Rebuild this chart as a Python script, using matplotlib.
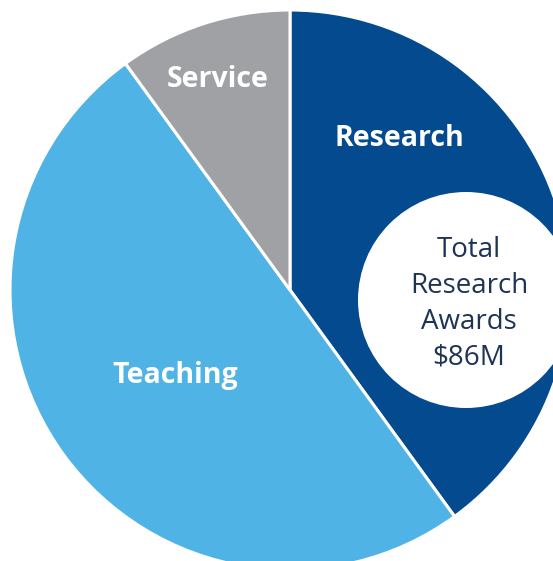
import matplotlib.pyplot as plt
from matplotlib.patches import Circle

# ==========================================
# データ
# ==========================================

labels = ["Research", "Teaching", "Service"]
shares = [40, 50, 10]
colors = ["#044A8F", "#50B3E5", "#A0A1A4"]

center_title = "Total\nResearch\nAwards\n$86M"

# 画像サイズ (px)
W = 553
H = 561

plt.rcParams["font.family"] = ["Open Sans", "DejaVu Sans"]

fig = plt.figure(figsize=(W / 100, H / 100), dpi=100)
ax = fig.add_axes([0, 0, 1, 1])

# 円グラフ (右下ははみ出す)
ax.pie(
    shares,
    colors=colors,
    startangle=90,
    counterclock=False,
    center=(290, H - 290),
    radius=280,
    wedgeprops=dict(edgecolor="white", linewidth=2.2),
)

ax.set_xlim(0, W)
ax.set_ylim(0, H)
ax.set_aspect("equal")
ax.axis("off")

# ラベル
label_pos = {
    "Research": (399, 138),
    "Teaching": (175, 375),
    "Service": (218, 79),
}
for name in labels:
    x, y = label_pos[name]
    ax.text(x, H - y, name, color="white", fontsize=20.5,
            fontweight="bold", ha="center", va="center")

# 中央の白い円
ax.add_patch(Circle((466, H - 300), 108, facecolor="white",
                    edgecolor="none", zorder=5))
ax.text(469, H - 304, center_title, color="#1E3355", fontsize=20,
        ha="center", va="center", linespacing=1.38, zorder=6)

fig.savefig("out.png", dpi=100)
